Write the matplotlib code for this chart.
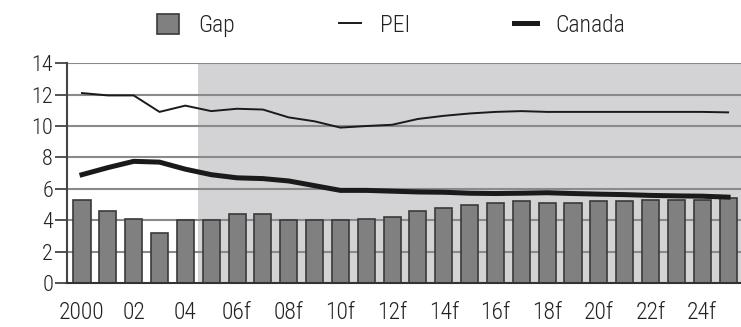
import numpy as np
import matplotlib
matplotlib.use("Agg")
import matplotlib.pyplot as plt
from matplotlib.patches import Patch
from matplotlib.lines import Line2D

plt.rcParams['font.family'] = ['Roboto Condensed', 'DejaVu Sans']
plt.rcParams['font.weight'] = 'light'

years = list(range(2000, 2026))
gap = [5.3, 4.6, 4.1, 3.2, 4.0, 4.0, 4.4, 4.4, 4.0, 4.0, 4.0, 4.1, 4.2,
       4.6, 4.8, 5.0, 5.1, 5.2, 5.1, 5.1, 5.2, 5.2, 5.3, 5.3, 5.3, 5.4]
pei = [12.1, 11.95, 11.95, 10.9, 11.3, 10.95, 11.1, 11.05, 10.55, 10.3, 9.9,
       10.0, 10.08, 10.45, 10.65, 10.8, 10.9, 10.95, 10.9, 10.9, 10.9, 10.9,
       10.9, 10.9, 10.9, 10.87]
canada = [6.9, 7.35, 7.75, 7.7, 7.25, 6.9, 6.7, 6.65, 6.5, 6.2, 5.9, 5.9,
          5.85, 5.8, 5.78, 5.72, 5.7, 5.72, 5.75, 5.7, 5.66, 5.63, 5.58,
          5.55, 5.53, 5.47]
tick_years = list(range(2000, 2026, 2))
tick_labels = ['2000', '02', '04', '06f', '08f', '10f', '12f', '14f', '16f',
               '18f', '20f', '22f', '24f']
forecast_start = 2004.5

fig = plt.figure(figsize=(7.41, 3.27), dpi=100)
ax = fig.add_axes([0.0904, 0.1346, 0.9096, 0.672])

# shaded forecast period
ax.axvspan(forecast_start, 2026, color='#d3d3d5', zorder=0, lw=0)
for yv in range(2, 15, 2):
    ax.axhline(yv, color='#8a8a8a', lw=1.5, zorder=1)

ax.bar(years, gap, width=0.66, color='#808080', edgecolor='#3a3a3a',
       linewidth=1.2, zorder=2)
ax.plot(years, pei, color='#1a1a1a', lw=1.4, zorder=3)
ax.plot(years, canada, color='#1a1a1a', lw=3.6, zorder=4)

ax.set_xlim(1999.42, 2025.5)
ax.set_ylim(0, 14)
ax.set_yticks(range(0, 15, 2))
ax.set_xticks(tick_years)
ax.set_xticklabels(tick_labels)
ax.tick_params(axis='y', length=9, width=1.3, color='#444444', pad=1,
               labelsize=16, labelcolor='#222222')
ax.tick_params(axis='x', length=0, pad=13, labelsize=17, labelcolor='#222222')

for s in ['top', 'right']:
    ax.spines[s].set_visible(False)
ax.spines['left'].set_color('#444444')
ax.spines['left'].set_linewidth(1.5)
ax.spines['bottom'].set_color('#333333')
ax.spines['bottom'].set_linewidth(1.5)

handles = [Patch(facecolor='#808080', edgecolor='#3a3a3a', lw=1.2),
           Line2D([], [], color='#1a1a1a', lw=1.4),
           Line2D([], [], color='#1a1a1a', lw=3.6)]
fig.legend(handles, ['Gap', 'PEI', 'Canada'], loc='center',
           bbox_to_anchor=(0.528, 0.922), ncol=3, frameon=False,
           fontsize=17, handlelength=0.95, handleheight=0.95, handletextpad=0.8,
           columnspacing=4.4, labelcolor='#222222')

fig.savefig('out.png', dpi=100)
